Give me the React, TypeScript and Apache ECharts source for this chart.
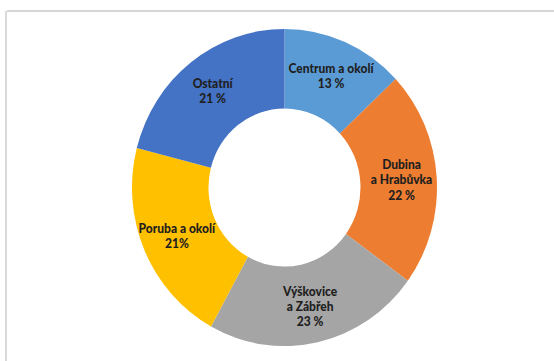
import React, { useEffect, useRef } from "react";
import * as echarts from "echarts";

const categories = [
  "Centrum a okolí",
  "Dubina\na Hrabůvka",
  "Výškovice\na Zábřeh",
  "Poruba a okolí",
  "Ostatní",
];
const values = [13, 22, 23, 21, 21];
const percentLabels = ["13 %", "22 %", "23 %", "21%", "21 %"];
const colors = ["#5B9BD5", "#ED7D31", "#A5A5A5", "#FFC000", "#4472C4"];

const SCALE_Y = 1.04;

export default function App() {
  const ref = useRef<HTMLDivElement>(null);

  useEffect(() => {
    if (!ref.current) return;
    const chart = echarts.init(ref.current, undefined, { renderer: "svg" });
    chart.setOption({
      animation: false,
      backgroundColor: "transparent",
      series: [
        {
          type: "pie",
          center: [284.5, 180.3],
          radius: [76, 152.5],
          startAngle: 90,
          clockwise: true,
          avoidLabelOverlap: false,
          labelLine: { show: false },
          label: {
            show: true,
            position: "inside",
            color: "#1f1f1f",
            fontFamily: "Lato",
            fontWeight: 900,
            fontSize: 12,
            lineHeight: 14.5,
            align: "center",
            formatter: (p: any) => `${p.name}\n${percentLabels[p.dataIndex]}`,
          },
          emphasis: { disabled: true },
          itemStyle: { borderWidth: 0 },
          data: categories.map((name, i) => ({
            name,
            value: values[i],
            itemStyle: { color: colors[i] },
          })),
        },
      ],
    });
    return () => chart.dispose();
  }, []);

  return (
    <div
      style={{
        position: "fixed",
        left: 0,
        top: 0,
        width: 554,
        height: 361,
        background: "#ffffff",
        overflow: "hidden",
      }}
    >
      <div
        style={{
          position: "absolute",
          left: 7,
          top: 10,
          width: 547,
          height: 1.5,
          background: "#d6d6d6",
        }}
      />
      <div
        style={{
          position: "absolute",
          left: 5,
          top: 11,
          width: 1.5,
          height: 350,
          background: "#d9d9d9",
        }}
      />
      <div
        ref={ref}
        style={{
          position: "absolute",
          left: 0,
          top: 0,
          width: 554,
          height: Math.round(361 / SCALE_Y),
          transform: `scaleY(${SCALE_Y})`,
          transformOrigin: "0 0",
        }}
      />
    </div>
  );
}
